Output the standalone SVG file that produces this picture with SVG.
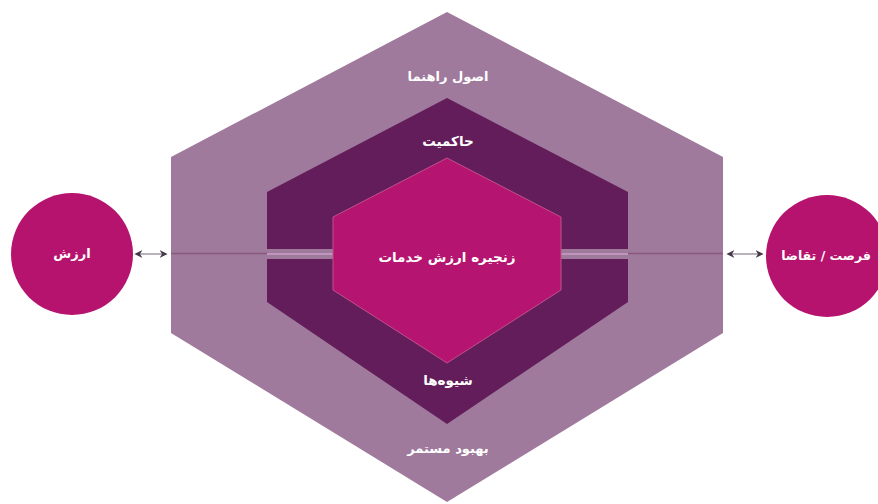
<svg xmlns="http://www.w3.org/2000/svg" width="878" height="504" viewBox="0 0 878 504">
<defs>
<style>
.lbl{font-family:"DejaVu Sans",sans-serif;font-weight:bold;fill:#ffffff;text-anchor:middle;dominant-baseline:central}
.arrow{stroke:#a59aa4;stroke-width:1.5;fill:none;marker-start:url(#ah);marker-end:url(#ah)}
</style>
<marker id="ah" viewBox="0 0 10 10" refX="8" refY="5" markerWidth="8" markerHeight="9" orient="auto-start-reverse" markerUnits="userSpaceOnUse">
<path d="M0,0 L10,5 L0,10 L3,5 Z" fill="#47384a"/>
</marker>
</defs>
<rect width="878" height="504" fill="#ffffff"/>
<g id="outer-hex">
<polygon points="447,12 723,157 723,333 447,502 171,333 171,157" fill="#a07a9c"/>
<text class="lbl" x="448" y="76" font-size="13">اصول راهنما</text>
<text class="lbl" x="448" y="448" font-size="13">بهبود مستمر</text>
</g>
<g id="middle-hex">
<polygon points="447,98 628,192 628,302 447,424 267,302 267,192" fill="#621d5a"/>
<text class="lbl" x="448" y="141" font-size="13.5">حاکمیت</text>
<text class="lbl" x="448" y="380" font-size="13.5">شیوه‌ها</text>
</g>
<g id="connectors">
<line x1="171" y1="253.5" x2="267" y2="253.5" stroke="#87597f" stroke-width="1.6"/>
<line x1="628" y1="253.5" x2="723" y2="253.5" stroke="#87597f" stroke-width="1.6"/>
<rect x="267" y="249" width="66" height="10" fill="#a07a9c"/>
<rect x="561" y="249" width="67" height="10" fill="#a07a9c"/>
<line x1="267" y1="254" x2="333" y2="254" stroke="#c095bb" stroke-width="2"/>
<line x1="561" y1="254" x2="628" y2="254" stroke="#c095bb" stroke-width="2"/>
<line class="arrow" x1="136" y1="254" x2="166" y2="254"/>
<line class="arrow" x1="728" y1="254" x2="762" y2="254"/>
</g>
<g id="inner-hex">
<polygon points="447,158 561,217 561,290 447,363 333,290 333,217" fill="#b51570" stroke="#c0508a" stroke-width="1"/>
<text class="lbl" x="447" y="257" font-size="13.5">زنجیره ارزش خدمات</text>
</g>
<g id="value">
<circle cx="72" cy="254" r="61" fill="#b5136e"/>
<text class="lbl" x="72" y="253" font-size="13">ارزش</text>
</g>
<g id="opportunity">
<circle cx="827" cy="256" r="61" fill="#b5136e"/>
<text class="lbl" x="826" y="255" font-size="12.5">فرصت / تقاضا</text>
</g>
</svg>
